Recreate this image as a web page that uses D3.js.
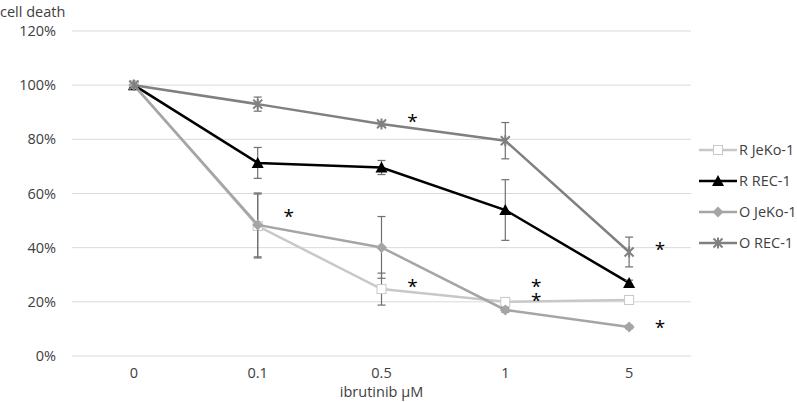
<!DOCTYPE html>
<html>
<head>
<meta charset="utf-8">
<script src="https://cdn.jsdelivr.net/npm/d3@7"></script>
<style>
  body { margin: 0; background: #fff; }
  text { font-family: "Open Sans", "Noto Sans", sans-serif; }
</style>
</head>
<body>
<svg width="797" height="402"></svg>
<script>
// categories and tick labels
var doses = ["0", "0.1", "0.5", "1", "5"];
var yTicks = [0, 20, 40, 60, 80, 100, 120];

// series values (% cell death) and error bars
var rJeko = [100, 48, 24.7, 20, 20.7];
var rJekoErr = [0, 11.8, 5.9, 1.4, 1.4];
var rRec = [100, 71.3, 69.6, 53.9, 27];
var rRecErr = [0, 5.7, 2.6, 11.2, 1];
var oJeko = [100, 48.4, 40.1, 17, 10.7];
var oJekoErr = [0, 11.8, 11.4, 0.8, 0.6];
var oRec = [100, 93, 85.7, 79.5, 38.4];
var oRecErr = [0, 2.6, 0.8, 6.7, 5.5];

// significance stars: dose and height in %
var starDoses = ["0.1", "0.5", "0.5", "1", "1", "5", "5"];
var starVals = [52.8, 87.9, 27, 27, 21.8, 40.6, 11.8];

var series = [
  {name: "R JeKo-1", vals: rJeko, err: rJekoErr, color: "#c8c8c8", marker: "square"},
  {name: "R REC-1", vals: rRec, err: rRecErr, color: "#000000", marker: "triangle"},
  {name: "O JeKo-1", vals: oJeko, err: oJekoErr, color: "#a5a5a5", marker: "diamond"},
  {name: "O REC-1", vals: oRec, err: oRecErr, color: "#808080", marker: "star"}
];

var svg = d3.select("svg");
var plotL = 72, plotR = 691, plotT = 31, plotB = 356;
var fs = 14.5;

var x = d3.scaleBand().domain(doses).range([plotL, plotR]);
var y = d3.scaleLinear().domain([0, 120]).range([plotB, plotT]);
var cx = function(d) { return x(d) + x.bandwidth() / 2; };

// gridlines
svg.append("g").selectAll("line")
  .data(yTicks).enter().append("line")
  .attr("x1", plotL).attr("x2", plotR)
  .attr("y1", function(d) { return y(d); })
  .attr("y2", function(d) { return y(d); })
  .attr("stroke", "#d9d9d9").attr("stroke-width", 1);

// y labels
svg.append("g").selectAll("text")
  .data(yTicks).enter().append("text")
  .attr("x", 56).attr("y", function(d) { return y(d) + 5; })
  .attr("text-anchor", "end")
  .attr("font-size", fs).attr("fill", "#404040")
  .text(function(d) { return d + "%"; });

// x labels
svg.append("g").selectAll("text")
  .data(doses).enter().append("text")
  .attr("x", function(d) { return cx(d); }).attr("y", 378)
  .attr("text-anchor", "middle")
  .attr("font-size", fs).attr("fill", "#404040")
  .text(function(d) { return d; });

svg.append("text").attr("x", cx("0.5")).attr("y", 397)
  .attr("text-anchor", "middle").attr("font-size", fs).attr("fill", "#404040")
  .text("ibrutinib µM");

svg.append("text").attr("x", 0).attr("y", 17)
  .attr("font-size", fs).attr("fill", "#404040")
  .text("cell death");

function drawMarker(g, type, color) {
  if (type == "square") {
    g.append("rect").attr("x", -4.5).attr("y", -4.5).attr("width", 9).attr("height", 9)
      .attr("fill", "#fff").attr("stroke", color).attr("stroke-width", 1);
  } else if (type == "triangle") {
    g.append("path").attr("d", "M0,-6L6,5L-6,5Z").attr("fill", color);
  } else if (type == "diamond") {
    g.append("path").attr("d", "M0,-5.5L5.5,0L0,5.5L-5.5,0Z").attr("fill", color);
  } else {
    g.append("path").attr("d", "M-4.5,-4.5L4.5,4.5M-4.5,4.5L4.5,-4.5M0,-5.5L0,5.5")
      .attr("stroke", color).attr("stroke-width", 2).attr("fill", "none");
  }
}

var line = d3.line()
  .x(function(d, i) { return cx(doses[i]); })
  .y(function(d) { return y(d); });

series.forEach(function(s) {
  var g = svg.append("g");
  g.append("path").datum(s.vals).attr("d", line)
    .attr("fill", "none").attr("stroke", s.color).attr("stroke-width", 2.5);

  // error bars
  var eb = g.selectAll(".err").data(s.vals.map(function(v, i) { return [v, s.err[i], doses[i]]; })
      .filter(function(d) { return d[1] > 0; }))
    .enter().append("g").attr("stroke", "#707070").attr("stroke-width", 1.2);
  eb.append("line")
    .attr("x1", function(d) { return cx(d[2]); }).attr("x2", function(d) { return cx(d[2]); })
    .attr("y1", function(d) { return y(d[0] + d[1]); }).attr("y2", function(d) { return y(d[0] - d[1]); });
  eb.append("line")
    .attr("x1", function(d) { return cx(d[2]) - 4; }).attr("x2", function(d) { return cx(d[2]) + 4; })
    .attr("y1", function(d) { return y(d[0] + d[1]); }).attr("y2", function(d) { return y(d[0] + d[1]); });
  eb.append("line")
    .attr("x1", function(d) { return cx(d[2]) - 4; }).attr("x2", function(d) { return cx(d[2]) + 4; })
    .attr("y1", function(d) { return y(d[0] - d[1]); }).attr("y2", function(d) { return y(d[0] - d[1]); });

  s.vals.forEach(function(v, i) {
    var m = g.append("g").attr("transform", "translate(" + cx(doses[i]) + "," + y(v) + ")");
    drawMarker(m, s.marker, s.color);
  });
});

// stars
svg.append("g").selectAll("text")
  .data(starDoses).enter().append("text")
  .attr("x", function(d) { return cx(d) + 31; })
  .attr("y", function(d, i) { return y(starVals[i]) + 10; })
  .attr("text-anchor", "middle").attr("font-size", 19).attr("fill", "#000")
  .text("*");

// legend
var lg = svg.append("g").selectAll("g")
  .data(series).enter().append("g")
  .attr("transform", function(d, i) { return "translate(718," + (150 + i * 31) + ")"; });
lg.append("line").attr("x1", -19).attr("x2", 19)
  .attr("stroke", function(d) { return d.color; }).attr("stroke-width", 2.5);
lg.each(function(d) { drawMarker(d3.select(this), d.marker, d.color); });
lg.append("text").attr("x", 21).attr("y", 5)
  .attr("font-size", fs).attr("fill", "#404040")
  .text(function(d) { return d.name; });
</script>
</body>
</html>
